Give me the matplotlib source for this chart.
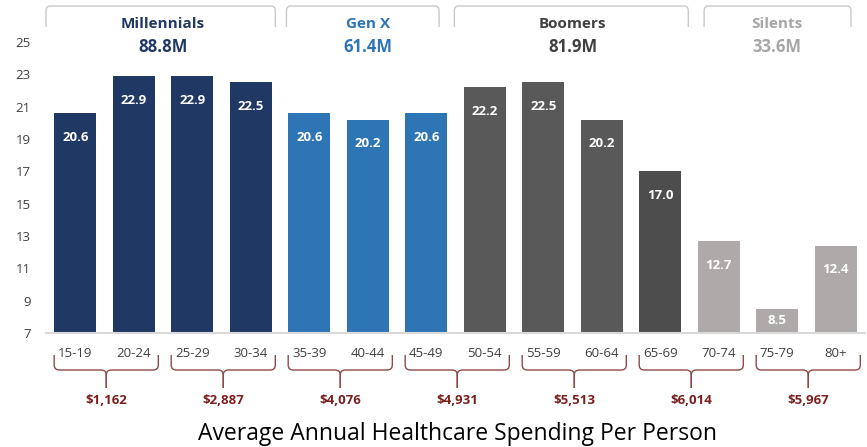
import matplotlib
matplotlib.use("Agg")
import matplotlib.pyplot as plt
from matplotlib.path import Path
from matplotlib.patches import PathPatch
from matplotlib import transforms

plt.rcParams["font.family"] = ["Open Sans", "DejaVu Sans"]

# ---- data ----
age_groups = ["15-19", "20-24", "25-29", "30-34", "35-39", "40-44", "45-49",
              "50-54", "55-59", "60-64", "65-69", "70-74", "75-79", "80+"]
population_m = [20.6, 22.9, 22.9, 22.5, 20.6, 20.2, 20.6,
                22.2, 22.5, 20.2, 17.0, 12.7, 8.5, 12.4]
generations = ["Millennials", "Gen X", "Boomers", "Silents"]
generation_totals = ["88.8M", "61.4M", "81.9M", "33.6M"]
generation_bar_counts = [4, 3, 4, 3]
spending_labels = ["$1,162", "$2,887", "$4,076", "$4,931", "$5,513", "$6,014", "$5,967"]

# ---- styling ----
bar_colors = ["#203864", "#2E75B6", "#595959", "#AEAAAA"]
header_colors = ["#203864", "#2E75B6", "#404040", "#A6A6A6"]
bar_color_override = {10: "#4D4D4D"}
brace_color = "#8E4A4A"
spend_color = "#7B1F1F"
# header bracket extents (x in bar units)
header_spans = [(-0.50, 3.42), (3.61, 6.22), (6.48, 10.48), (10.75, 13.26)]

W, H = 867, 447
fig = plt.figure(figsize=(W / 100, H / 100), dpi=100)
ax = fig.add_axes([46 / W, 1 - 333 / H, (865 - 46) / W, (333 - 42) / H])

colors = []
for gi, n in enumerate(generation_bar_counts):
    colors += [bar_colors[gi]] * n
for i, c in bar_color_override.items():
    colors[i] = c

x = list(range(len(age_groups)))
base = 7
ax.bar(x, [v - base for v in population_m], bottom=base, width=0.72,
       color=colors, linewidth=0)

for xi, v in zip(x, population_m):
    ly = max(v - 1.5, (base + v) / 2)
    ax.text(xi, ly, f"{v:.1f}", ha="center", va="center", color="white",
            fontsize=9.5, fontweight="bold")

ax.set_xlim(-0.5, len(age_groups) - 0.5)
ax.set_ylim(7, 25)
ax.set_yticks(range(7, 26, 2))
ax.set_xticks(x)
ax.set_xticklabels(age_groups)
ax.tick_params(axis="both", length=0, labelsize=9.5, labelcolor="#404040")
ax.tick_params(axis="y", pad=11)
ax.tick_params(axis="x", pad=10)
for s in ["top", "right", "left"]:
    ax.spines[s].set_visible(False)
ax.spines["bottom"].set_color("#D9D9D9")
ax.spines["bottom"].set_linewidth(1.5)

# x in data units, y in figure fraction
tr = transforms.blended_transform_factory(ax.transData, fig.transFigure)


def py(p):
    # pixels from the top of the figure -> figure fraction
    return 1 - p / H


# generation header brackets and labels
start = 0
for gi, (name, total, n) in enumerate(zip(generations, generation_totals,
                                         generation_bar_counts)):
    x0, x1 = header_spans[gi]
    r = 0.07
    verts = [(x0, py(27)), (x0, py(11)), (x0, py(6)), (x0 + r, py(6)),
             (x1 - r, py(6)), (x1, py(6)), (x1, py(11)), (x1, py(27))]
    codes = [Path.MOVETO, Path.LINETO, Path.CURVE3, Path.CURVE3,
             Path.LINETO, Path.CURVE3, Path.CURVE3, Path.LINETO]
    fig.add_artist(PathPatch(Path(verts, codes), transform=tr, fill=False,
                             edgecolor="#C9C9C9", linewidth=1.0, clip_on=False))
    cx = start + (n - 1) / 2
    fig.text(cx, py(24), name, transform=tr, ha="center", va="center",
             fontsize=11, fontweight="bold", color=header_colors[gi])
    fig.text(cx, py(47), total, transform=tr, ha="center", va="center",
             fontsize=12, fontweight="bold", color=header_colors[gi])
    start += n

# spending braces under each pair of age groups
half = 0.89
for k, label in enumerate(spending_labels):
    c = 2 * k + 0.5 + 0.03
    rx = 0.09
    top, mid, tip = 355, 370, 388
    for side in (-1, 1):
        e = c + side * half
        verts = [(e, py(top)), (e, py(mid - 5)), (e, py(mid)), (e - side * rx, py(mid)),
                 (c + side * rx, py(mid)), (c, py(mid)), (c, py(mid + 5)), (c, py(tip))]
        codes = [Path.MOVETO, Path.LINETO, Path.CURVE3, Path.CURVE3,
                 Path.LINETO, Path.CURVE3, Path.CURVE3, Path.LINETO]
        fig.add_artist(PathPatch(Path(verts, codes), transform=tr, fill=False,
                                 edgecolor=brace_color, linewidth=1.0, clip_on=False))
    fig.text(c, py(400), label, transform=tr, ha="center", va="center",
             fontsize=9.5, fontweight="bold", color=spend_color)

fig.text(6.5 + 0.03, py(434), "Average Annual Healthcare Spending Per Person",
         transform=tr, ha="center", va="center", fontsize=16.5, color="#000000")

fig.savefig("out.png", dpi=100)
